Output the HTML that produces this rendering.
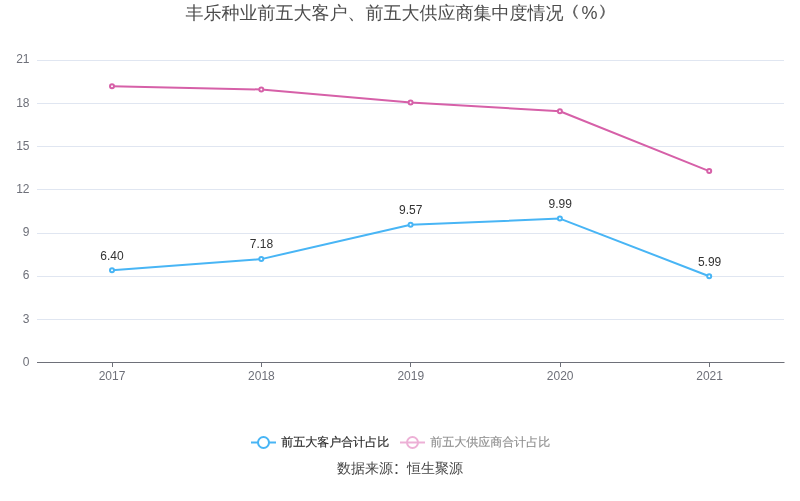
<!DOCTYPE html>
<html><head><meta charset="utf-8">
<style>
html,body{margin:0;padding:0;background:#fff;}
svg{display:block;}
text{font-family:"Liberation Sans","WenQuanYi Zen Hei","Noto Sans CJK SC",sans-serif;}
</style></head><body>
<svg style="will-change:transform" width="800" height="501" viewBox="0 0 800 501" xmlns="http://www.w3.org/2000/svg">
<rect width="800" height="501" fill="#fff"/>
<g font-size="18" fill="#4c4c4c">
<text x="185.5" y="19">丰乐种业前五大客户、前五大供应商集中度情况</text>
<text fill="#666" transform="translate(556.65,16.21) scale(1.4,0.923)">（</text>
<text x="581.5" y="19">%</text>
<text fill="#666" transform="translate(596.11,16.21) scale(1.4,0.923)">）</text>
</g>
<g stroke="#E0E6F1" stroke-width="1" shape-rendering="crispEdges">
<line x1="37" x2="784" y1="60.5" y2="60.5"/>
<line x1="37" x2="784" y1="103.5" y2="103.5"/>
<line x1="37" x2="784" y1="146.5" y2="146.5"/>
<line x1="37" x2="784" y1="189.5" y2="189.5"/>
<line x1="37" x2="784" y1="233.5" y2="233.5"/>
<line x1="37" x2="784" y1="276.5" y2="276.5"/>
<line x1="37" x2="784" y1="319.5" y2="319.5"/>
</g>
<g stroke="#6E7079" stroke-width="1" shape-rendering="crispEdges">
<line x1="37" x2="784" y1="362.5" y2="362.5"/>
<rect x="784" y="362" width="0.5" height="1" fill="#6E7079" stroke="none" shape-rendering="geometricPrecision"/>
<line x1="112.5" x2="112.5" y1="362" y2="367"/>
<line x1="261.5" x2="261.5" y1="362" y2="367"/>
<line x1="410.5" x2="410.5" y1="362" y2="367"/>
<line x1="560.5" x2="560.5" y1="362" y2="367"/>
<line x1="709.5" x2="709.5" y1="362" y2="367"/>
</g>
<g font-size="12" fill="#6E7079" text-anchor="end">
<text x="29.5" y="63">21</text>
<text x="29.5" y="107">18</text>
<text x="29.5" y="150">15</text>
<text x="29.5" y="193">12</text>
<text x="29.5" y="236">9</text>
<text x="29.5" y="279">6</text>
<text x="29.5" y="323">3</text>
<text x="29.5" y="366">0</text>
</g>
<g font-size="12" fill="#6E7079" text-anchor="middle">
<text x="112.0" y="380">2017</text>
<text x="261.4" y="380">2018</text>
<text x="410.8" y="380">2019</text>
<text x="560.2" y="380">2020</text>
<text x="709.6" y="380">2021</text>
</g>
<polyline fill="none" stroke="#48B5F5" stroke-width="2" stroke-linejoin="bevel" points="112.0,270.3 261.3,259.1 410.6,224.7 559.9,218.6 709.2,276.2"/>
<polyline fill="none" stroke="#D660A8" stroke-width="2" stroke-linejoin="bevel" points="112.0,86.3 261.3,89.5 410.6,102.5 559.9,111.3 709.2,171.1"/>
<g fill="#fff" stroke="#48B5F5" stroke-width="2">
<circle cx="112.0" cy="270.3" r="2"/><circle cx="261.3" cy="259.1" r="2"/><circle cx="410.6" cy="224.7" r="2"/><circle cx="559.9" cy="218.6" r="2"/><circle cx="709.2" cy="276.2" r="2"/>
</g>
<g fill="#fff" stroke="#D660A8" stroke-width="2">
<circle cx="112.0" cy="86.3" r="2"/><circle cx="261.3" cy="89.5" r="2"/><circle cx="410.6" cy="102.5" r="2"/><circle cx="559.9" cy="111.3" r="2"/><circle cx="709.2" cy="171.1" r="2"/>
</g>
<g font-size="12" fill="#333" text-anchor="middle">
<text x="112.0" y="260">6.40</text>
<text x="261.4" y="248">7.18</text>
<text x="410.8" y="214">9.57</text>
<text x="560.2" y="208">9.99</text>
<text x="709.6" y="266">5.99</text>
</g>
<!-- legend -->
<g>
<line x1="251" x2="276" y1="442.5" y2="442.5" stroke="#48B5F5" stroke-width="2"/>
<circle cx="263.5" cy="442.5" r="5.5" fill="#fff" stroke="#48B5F5" stroke-width="2"/>
<text x="281.3" y="446" font-size="12" fill="#2a2a2a" stroke="#333" stroke-width="0.2">前五大客户合计占比</text>
<circle cx="412.5" cy="442.5" r="5.5" fill="#fff" stroke="#EDB0D6" stroke-width="2"/>
<line x1="400" x2="425" y1="442.5" y2="442.5" stroke="#EDB0D6" stroke-width="2"/>
<text x="430.3" y="446" font-size="12" fill="#8c8c8c" stroke="#999" stroke-width="0.15">前五大供应商合计占比</text>
</g>
<text x="337" y="472.5" font-size="14" fill="#464646">数据来源<tspan font-family="Noto Sans CJK SC">：</tspan>恒生聚源</text>
</svg>
</body></html>
